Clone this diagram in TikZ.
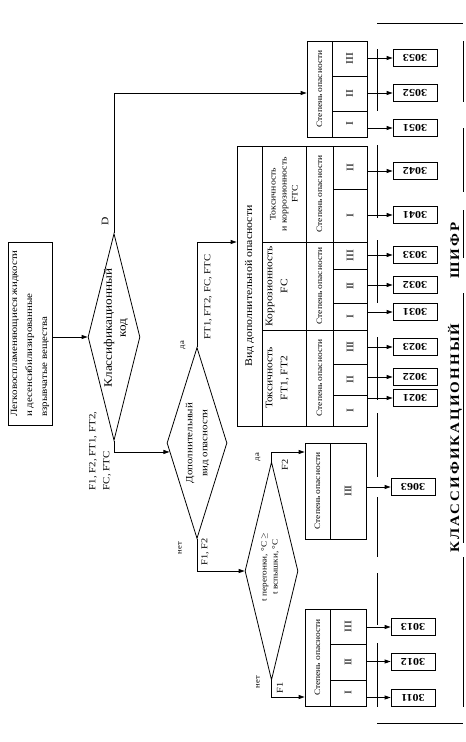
\documentclass[tikz,border=0pt]{standalone}
\usepackage{fontspec}
\setmainfont[FakeStretch=1.15]{Liberation Serif}
\usetikzlibrary{arrows.meta,shapes.geometric}

\newcommand{\fsz}[2]{\fontsize{#1}{#2}\selectfont}
\newcommand{\flip}[1]{\rotatebox{180}{#1}}

\begin{document}
\begin{tikzpicture}[
  x=1pt, y=-1pt,
  >={Triangle[length=6pt,width=4pt]},
  line width=0.8pt,
  cell/.style={draw, rotate=90, inner sep=0pt, align=center, font=\fsz{10}{12}},
  deg/.style={cell, minimum height=34pt, font=\fsz{10}{12}},
  hz/.style={cell, font=\fsz{8.2}{10}},
  dia/.style={draw, diamond, inner sep=0pt},
  txt/.style={rotate=90, inner sep=0pt, align=center},
  lbl/.style={rotate=90, inner sep=0pt, font=\fsz{9}{11}},
  yn/.style={lbl, font=\fsz{7.5}{9}},
  code/.style={draw, minimum width=44pt, minimum height=17pt, inner sep=0pt, font=\bfseries\fsz{10.5}{12}},
  arr/.style={->}
]
\useasboundingbox (0,0) rectangle (466,742);

% source
\node[cell, minimum width=183pt, minimum height=44pt, align=left, font=\fsz{9.5}{15}] (src) at (30,333.5)
  {Легковоспламеняющиеся жидкости\\и десенсибилизированные\\взрывчатые вещества};

% classification code
\node[dia, minimum width=52pt, minimum height=207pt] (d1) at (114,337) {};
\node[txt, font=\fsz{11.5}{14}] (d1t) at (116,328) {Классификационный\\код};
\draw[arr] (src.south |- d1) -- (d1.west);
\node[lbl, font=\fsz{10}{12}] (lD) at (105,221) {D};
\node[lbl, align=left, font=\fsz{9.5}{14}] (lf) at (100,451) {F1, F2, FT1, FT2,\\FC, FTC};

% additional hazard
\node[dia, minimum width=60pt, minimum height=191pt] (d2) at (197,443) {};
\node[txt, font=\fsz{9.5}{15}] (d2t) at (197.5,443) {Дополнительный\\вид опасности};
\draw[arr] (d1.south) |- (d2.198);
\node[yn] (y2) at (183,345) {да};
\node[lbl, font=\fsz{9.3}{11}] (lft) at (208,297) {FT1, FT2, FC, FTC};
\node[yn] (n2) at (180,548) {нет};
\node[lbl] (lf12) at (205,552) {F1, F2};

% flash point
\node[dia, minimum width=53pt, minimum height=218pt] (d3) at (271.5,571) {};
\node[txt, font=\fsz{8}{11}] (d3t) at (270,567) {t перегонки, °C $\geq$\\t вспышки, °C};
\draw[arr] (d2.south) |- (d3.west);
\node[yn] (y3) at (258,457) {да};
\node[lbl] (lf2) at (285,465) {F2};
\node[yn] (n3) at (258,682) {нет};
\node[lbl] (lf1) at (280,688) {F1};

% group 305x
\node[hz, minimum width=96pt, minimum height=25pt] (s5) at (319.5,89) {Степень опасности};
\node[deg, minimum width=35pt, minimum height=35pt] (g53) at (349.5,58.5) {III};
\node[deg, minimum width=35pt, minimum height=35pt] (g52) at (349.5,93.5) {II};
\node[deg, minimum width=26pt, minimum height=35pt] (g51) at (349.5,124) {I};
\draw[arr] (d1.north) |- ([yshift=-4pt]s5.north);

% groups 302x - 304x
\node[cell, minimum width=280pt, minimum height=25pt, font=\fsz{10.3}{12}] (vid) at (249.5,286) {Вид дополнительной опасности};
\draw[arr] (d2.north) |- ([yshift=44pt]vid.north);
\node[cell, minimum width=96pt, minimum height=44pt, font=\fsz{8.5}{11}] (hftc) at (284,194) {Токсичность\\и коррозионность\\FTC};
\node[cell, minimum width=88pt, minimum height=44pt, font=\fsz{10}{15}] (hfc) at (284,286) {Коррозионность\\FC\\~};
\node[cell, minimum width=96pt, minimum height=44pt, font=\fsz{10}{15}] (hft) at (284,378) {Токсичность\\FT1, FT2\\~};
\node[hz, minimum width=96pt, minimum height=27pt] (sftc) at (319.5,194) {Степень опасности};
\node[hz, minimum width=88pt, minimum height=27pt] (sfc) at (319.5,286) {Степень опасности};
\node[hz, minimum width=96pt, minimum height=27pt] (sft) at (319.5,378) {Степень опасности};
\node[deg, minimum width=43pt] (g42) at (350,167.5) {II};
\node[deg, minimum width=53pt] (g41) at (350,215.5) {I};
\node[deg, minimum width=27pt] (g33) at (350,255.5) {III};
\node[deg, minimum width=34pt] (g32) at (350,286) {II};
\node[deg, minimum width=27pt] (g31) at (350,316.5) {I};
\node[deg, minimum width=34pt] (g23) at (350,347) {III};
\node[deg, minimum width=31pt] (g22) at (350,379.5) {II};
\node[deg, minimum width=31pt] (g21) at (350,410.5) {I};

% group 306x
\node[hz, minimum width=96pt, minimum height=25pt] (s6) at (317.5,491) {Степень опасности};
\node[deg, minimum width=96pt, minimum height=36pt] (g63) at (348,491) {III};
\draw[arr] (d3.north) |- ([yshift=39pt]s6.north);

% group 301x
\node[hz, minimum width=97pt, minimum height=25pt] (s1) at (317.5,657.5) {Степень опасности};
\node[deg, minimum width=35pt, minimum height=36pt] (g13) at (348,626.5) {III};
\node[deg, minimum width=36pt, minimum height=36pt] (g12) at (348,662) {II};
\node[deg, minimum width=26pt, minimum height=36pt] (g11) at (348,693) {I};
\draw[arr] (d3.south) |- ([yshift=-39.5pt]s1.north);

% codes
\node[code] (k53) at (415,58) {\flip{3053}};
\node[code] (k52) at (415,93) {\flip{3052}};
\node[code] (k51) at (415,128) {\flip{3051}};
\node[code] (k42) at (415,171) {\flip{3042}};
\node[code] (k41) at (415,215) {\flip{3041}};
\node[code] (k33) at (415,255) {\flip{3033}};
\node[code] (k32) at (415,285) {\flip{3032}};
\node[code] (k31) at (415,312) {\flip{3031}};
\node[code] (k23) at (415,347) {\flip{3023}};
\node[code] (k22) at (415,377) {\flip{3022}};
\node[code] (k21) at (415,398) {\flip{3021}};
\node[code] (k63) at (413,487) {\flip{3063}};
\node[code] (k13) at (413,627) {\flip{3013}};
\node[code] (k12) at (413,661.5) {\flip{3012}};
\node[code] (k11) at (413,697.5) {\flip{3011}};

\draw[arr] (k53.west -| g53.south) -- (k53.west);
\draw[arr] (k52.west -| g52.south) -- (k52.west);
\draw[arr] (k51.west -| g51.south) -- (k51.west);
\draw[arr] (k42.west -| g42.south) -- (k42.west);
\draw[arr] (k41.west -| g41.south) -- (k41.west);
\draw[arr] (k33.west -| g33.south) -- (k33.west);
\draw[arr] (k32.west -| g32.south) -- (k32.west);
\draw[arr] (k31.west -| g31.south) -- (k31.west);
\draw[arr] (k23.west -| g23.south) -- (k23.west);
\draw[arr] (k22.west -| g22.south) -- (k22.west);
\draw[arr] (k21.west -| g21.south) -- (k21.west);
\draw[arr] (k63.west -| g63.south) -- (k63.west);
\draw[arr] (k13.west -| g13.south) -- (k13.west);
\draw[arr] (k12.west -| g12.south) -- (k12.west);
\draw[arr] (k11.west -| g11.south) -- (k11.west);

% frame of the code column
\draw (377,23) -- (463,23) (377,723) -- (463,723);
\draw (377,49) -- (377,111) (377,145) -- (377,218) (377,240) -- (377,303) (377,337) -- (377,400)
      (377,413) -- (377,477) (377,497) -- (377,557) (377,573) -- (377,625) (377,643) -- (377,707);
\draw (463,41) -- (463,102) (463,128) -- (463,192) (463,210) -- (463,258) (463,293) -- (463,543)
      (463,557) -- (463,707);
\node[txt, anchor=west, font=\bfseries\fsz{13}{15}\addfontfeature{LetterSpace=16}] (title) at (455,553)
  {КЛАССИФИКАЦИОННЫЙ\hspace{45pt}ШИФР};

\end{tikzpicture}
\end{document}
